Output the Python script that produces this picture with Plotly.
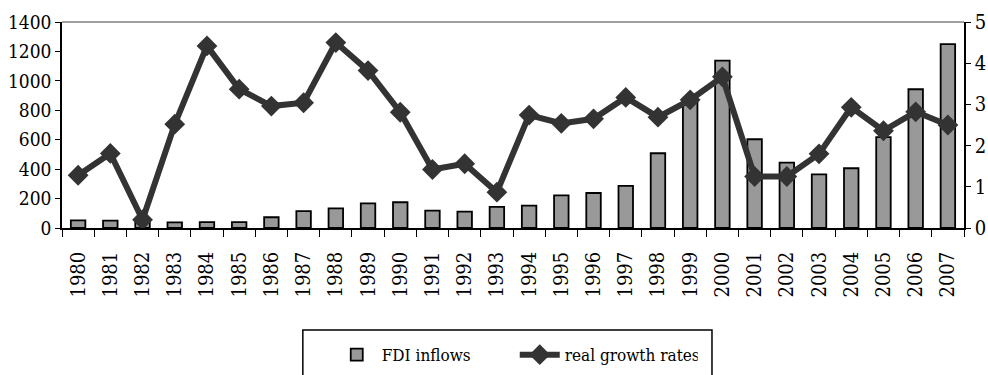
import plotly.graph_objects as go

years = [str(y) for y in range(1980, 2008)]

# FDI inflows (left axis)
fdi_inflows = [52, 50, 42, 38, 40, 40, 73, 115, 134, 168, 175, 118, 111, 143,
               152, 222, 238, 286, 508, 868, 1138, 603, 444, 365, 406, 618, 943, 1250]

# real growth rates (right axis)
growth_rates = [1.28, 1.81, 0.2, 2.52, 4.42, 3.37, 2.96, 3.04, 4.50, 3.82, 2.81, 1.42,
                1.56, 0.87, 2.74, 2.54, 2.65, 3.17, 2.69, 3.11, 3.67, 1.25, 1.25, 1.80,
                2.93, 2.36, 2.82, 2.50]

left_ticks = [0, 200, 400, 600, 800, 1000, 1200, 1400]
right_ticks = [0, 1, 2, 3, 4, 5]

FONT = "DejaVu Serif Condensed, DejaVu Serif"

fig = go.Figure()

fig.add_trace(go.Bar(
    x=years, y=fdi_inflows, name="FDI inflows",
    marker=dict(color="#999999", line=dict(color="#000000", width=1.8)),
    yaxis="y",
))

fig.add_trace(go.Scatter(
    x=years, y=growth_rates, name="real growth rates",
    mode="lines+markers",
    line=dict(color="#333333", width=6),
    marker=dict(symbol="diamond", size=16, color="#333333"),
    yaxis="y2",
))

fig.update_layout(
    width=988, height=375,
    margin=dict(l=62, r=24, t=22, b=147, autoexpand=False),
    paper_bgcolor="white", plot_bgcolor="white",
    font=dict(family=FONT, size=20, color="#000000"),
    bargap=0.55,
    showlegend=True,
    legend=dict(
        orientation="h", xref="container", yref="container",
        x=0.521, xanchor="center", y=0.053, yanchor="middle",
        font=dict(family=FONT, size=17), bgcolor="rgba(0,0,0,0)",
        itemwidth=40, traceorder="normal", entrywidth=128,
    ),
    xaxis=dict(
        type="category", range=[-0.5, 27.5],
        showline=True, linecolor="#000000", linewidth=1.5,
        ticks="outside", ticklen=7, tickcolor="#000000", tickwidth=1,
        tickson="boundaries", tickangle=-90, ticklabelstandoff=14,
        tickfont=dict(family=FONT, size=20),
        showgrid=False, zeroline=False, automargin=False,
    ),
    yaxis=dict(
        range=[0, 1400], tickvals=left_ticks,
        showline=True, linecolor="#000000", linewidth=1.5,
        ticks="outside", ticklen=5, tickcolor="#000000",
        tickfont=dict(family=FONT, size=19),
        showgrid=False, zeroline=False, automargin=False,
    ),
    yaxis2=dict(
        range=[0, 5], tickvals=right_ticks, overlaying="y", side="right",
        showline=True, linecolor="#000000", linewidth=1.5,
        ticks="outside", ticklen=5, tickcolor="#000000",
        tickfont=dict(family=FONT, size=20),
        showgrid=False, zeroline=False, automargin=False,
    ),
    shapes=[
        # top border of the plot area
        dict(type="line", xref="paper", yref="paper", x0=0, x1=1, y0=1, y1=1,
             line=dict(color="#808080", width=1.5)),
        # legend frame
        dict(type="rect", xref="paper", yref="paper", x0=0.267, x1=0.7206,
             y0=-0.495, y1=-0.80, line=dict(color="#000000", width=1.5),
             fillcolor="rgba(0,0,0,0)"),
    ],
)

fig.write_html("out.html")
